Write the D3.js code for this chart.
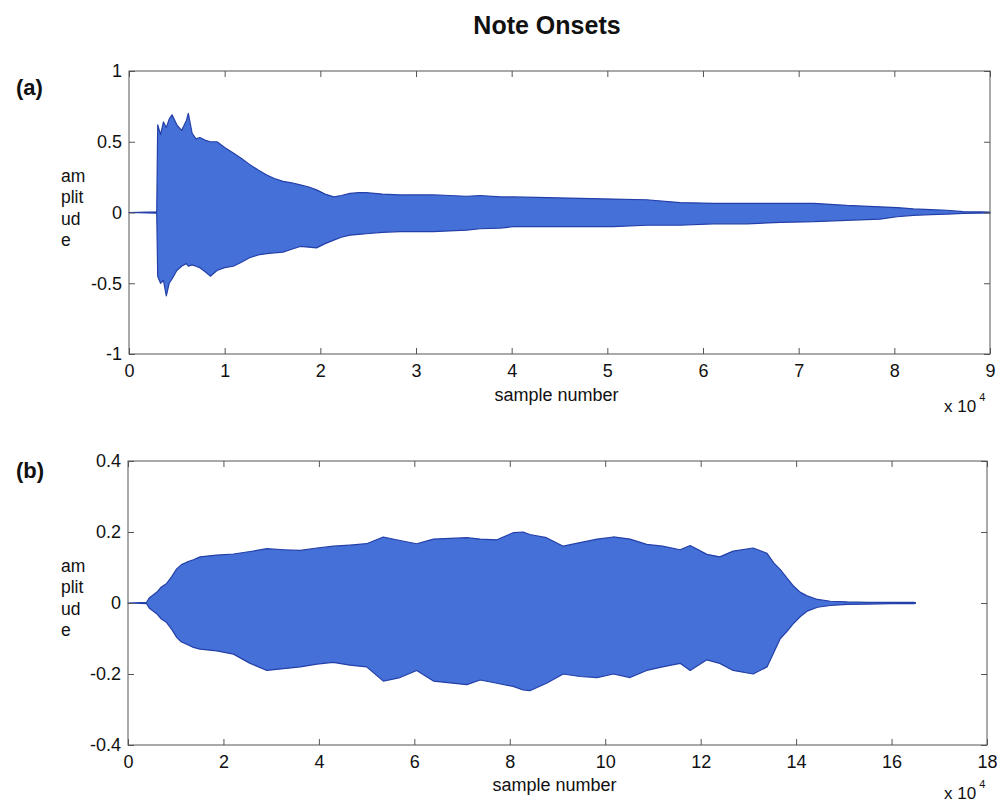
<!DOCTYPE html>
<html>
<head>
<meta charset="utf-8">
<script src="https://cdn.jsdelivr.net/npm/d3@7"></script>
<style>
  html, body { margin: 0; padding: 0; background: #ffffff; }
  svg { display: block; font-family: "Liberation Sans", Arial, sans-serif; }
</style>
</head>
<body>
<svg id="chart" width="997" height="804"></svg>
<script>
// ---------- data (x in units of 10^4 samples) ----------
const aX = [0, 0.29, 0.30, 0.33, 0.36, 0.39, 0.42, 0.45, 0.50, 0.55, 0.60, 0.62, 0.66, 0.70, 0.74, 0.80, 0.85, 0.92, 1.0, 1.09, 1.18, 1.26, 1.35, 1.44, 1.52, 1.61, 1.70, 1.79, 1.88, 1.96, 2.05, 2.14, 2.22, 2.31, 2.40, 2.48, 2.65, 2.83, 3.0, 3.18, 3.35, 3.53, 3.67, 3.88, 4.02, 4.37, 4.72, 5.06, 5.41, 5.76, 6.11, 6.46, 6.81, 7.16, 7.5, 7.85, 8.03, 8.2, 8.38, 8.55, 8.72, 8.9, 9.0];
const aUpper = [0, 0.005, 0.62, 0.55, 0.64, 0.60, 0.66, 0.69, 0.62, 0.58, 0.65, 0.70, 0.56, 0.52, 0.53, 0.51, 0.50, 0.50, 0.46, 0.42, 0.38, 0.34, 0.30, 0.265, 0.24, 0.22, 0.21, 0.195, 0.18, 0.16, 0.13, 0.11, 0.12, 0.135, 0.14, 0.14, 0.13, 0.124, 0.125, 0.124, 0.12, 0.115, 0.12, 0.11, 0.11, 0.105, 0.10, 0.095, 0.09, 0.07, 0.065, 0.065, 0.065, 0.065, 0.05, 0.04, 0.035, 0.025, 0.02, 0.016, 0.006, 0.004, 0.003];
const aLower = [0, -0.005, -0.45, -0.50, -0.48, -0.59, -0.50, -0.47, -0.41, -0.38, -0.36, -0.38, -0.37, -0.38, -0.39, -0.42, -0.45, -0.41, -0.39, -0.38, -0.35, -0.32, -0.30, -0.29, -0.285, -0.28, -0.26, -0.24, -0.245, -0.25, -0.22, -0.195, -0.175, -0.16, -0.155, -0.15, -0.14, -0.135, -0.135, -0.135, -0.13, -0.125, -0.115, -0.11, -0.10, -0.10, -0.10, -0.10, -0.09, -0.09, -0.08, -0.08, -0.07, -0.065, -0.055, -0.047, -0.03, -0.02, -0.015, -0.012, -0.006, -0.004, -0.003];

const bX = [0, 0.39, 0.45, 0.6, 0.7, 0.81, 0.92, 1.02, 1.12, 1.23, 1.37, 1.51, 1.86, 2.21, 2.56, 2.91, 3.26, 3.61, 3.96, 4.3, 4.65, 5.0, 5.35, 5.7, 6.05, 6.4, 6.75, 7.1, 7.38, 7.73, 8.07, 8.28, 8.42, 8.77, 9.12, 9.47, 9.83, 10.17, 10.52, 10.87, 11.2, 11.57, 11.78, 12.13, 12.4, 12.68, 13.1, 13.39, 13.53, 13.67, 13.81, 13.95, 14.09, 14.23, 14.45, 14.72, 15.07, 15.5, 16.0, 16.46, 16.5];
const bUpper = [0, 0.002, 0.015, 0.03, 0.045, 0.055, 0.075, 0.096, 0.108, 0.115, 0.122, 0.13, 0.135, 0.138, 0.145, 0.153, 0.15, 0.148, 0.155, 0.16, 0.163, 0.167, 0.186, 0.176, 0.167, 0.18, 0.182, 0.184, 0.18, 0.178, 0.198, 0.2, 0.193, 0.184, 0.16, 0.17, 0.18, 0.186, 0.18, 0.165, 0.16, 0.15, 0.162, 0.137, 0.13, 0.146, 0.155, 0.14, 0.113, 0.094, 0.07, 0.047, 0.03, 0.02, 0.01, 0.005, 0.003, 0.002, 0.002, 0.002, 0.001];
const bLower = [0, -0.002, -0.015, -0.03, -0.045, -0.055, -0.075, -0.097, -0.11, -0.116, -0.125, -0.13, -0.135, -0.144, -0.17, -0.19, -0.185, -0.18, -0.172, -0.167, -0.175, -0.18, -0.22, -0.21, -0.19, -0.22, -0.225, -0.23, -0.217, -0.226, -0.235, -0.245, -0.247, -0.226, -0.2, -0.207, -0.21, -0.2, -0.21, -0.19, -0.18, -0.17, -0.19, -0.16, -0.17, -0.19, -0.2, -0.18, -0.14, -0.10, -0.08, -0.057, -0.038, -0.023, -0.012, -0.007, -0.004, -0.003, -0.002, -0.002, -0.001];

const aXTicks = [0, 1, 2, 3, 4, 5, 6, 7, 8, 9];
const aYTicks = [-1, -0.5, 0, 0.5, 1];
const bXTicks = [0, 2, 4, 6, 8, 10, 12, 14, 16, 18];
const bYTicks = [-0.4, -0.2, 0, 0.2, 0.4];

const title = "Note Onsets";
const panelLabels = ["(a)", "(b)"];
const yLabelLines = ["am", "plit", "ud", "e"];
const xLabel = "sample number";

// ---------- drawing ----------
const svg = d3.select("#chart");
const FILL = "#4470d8", EDGE = "#2440a8", AXIS = "#555", TXT = "#111";

svg.append("text").attr("x", 547).attr("y", 34).attr("text-anchor", "middle")
  .attr("font-size", 25).attr("font-weight", "bold").attr("fill", TXT).text(title);

const panels = [
  { X: aX, U: aUpper, L: aLower, xt: aXTicks, yt: aYTicks, xd: [0, 9], yd: [-1, 1],
    left: 129, right: 990, top: 71, bottom: 354, label: panelLabels[0], labelY: 95,
    yLabBase: 182, xLabBase: 401, expBase: 412 },
  { X: bX, U: bUpper, L: bLower, xt: bXTicks, yt: bYTicks, xd: [0, 18], yd: [-0.4, 0.4],
    left: 128, right: 987, top: 461, bottom: 745, label: panelLabels[1], labelY: 478,
    yLabBase: 572, xLabBase: 791, expBase: 799 }
];

panels.forEach(p => {
  const x = d3.scaleLinear().domain(p.xd).range([p.left, p.right]);
  const y = d3.scaleLinear().domain(p.yd).range([p.bottom, p.top]);
  const g = svg.append("g");
  const pts = p.X.map((v, i) => ({ x: v, u: p.U[i], l: p.L[i] }));

  // waveform envelope
  g.append("path").datum(pts)
    .attr("d", d3.area().x(d => x(d.x)).y0(d => y(d.l)).y1(d => y(d.u)))
    .attr("fill", FILL).attr("stroke", EDGE).attr("stroke-width", 1.2)
    .attr("stroke-linejoin", "round");

  // box
  g.append("rect").attr("x", p.left).attr("y", p.top)
    .attr("width", p.right - p.left).attr("height", p.bottom - p.top)
    .attr("fill", "none").attr("stroke", AXIS).attr("stroke-width", 1);

  // axes with inward ticks
  const fmt = d => String(d);
  g.append("g").attr("transform", `translate(0,${p.bottom})`)
    .call(d3.axisBottom(x).tickValues(p.xt).tickSize(-6).tickPadding(10).tickFormat(fmt));
  g.append("g").attr("transform", `translate(0,${p.top})`)
    .call(d3.axisTop(x).tickValues(p.xt).tickSize(-6).tickFormat(""));
  g.append("g").attr("transform", `translate(${p.left},0)`)
    .call(d3.axisLeft(y).tickValues(p.yt).tickSize(-6).tickPadding(7).tickFormat(fmt));
  g.append("g").attr("transform", `translate(${p.right},0)`)
    .call(d3.axisRight(y).tickValues(p.yt).tickSize(-6).tickFormat(""));
  g.selectAll(".domain").remove();
  g.selectAll(".tick line").attr("stroke", AXIS);
  g.selectAll(".tick text").attr("font-size", 18).attr("fill", TXT)
    .attr("font-family", "'Liberation Sans', Arial, sans-serif");

  // panel label
  svg.append("text").attr("x", 16).attr("y", p.labelY).attr("font-size", 22)
    .attr("font-weight", "bold").attr("fill", TXT).text(p.label);

  // y label (stacked lines)
  yLabelLines.forEach((t, i) => {
    svg.append("text").attr("x", 61).attr("y", p.yLabBase + i * 21.4)
      .attr("font-size", 17.5).attr("fill", TXT).text(t);
  });

  // x label
  svg.append("text").attr("x", (p.left + p.right) / 2 - 3).attr("y", p.xLabBase)
    .attr("text-anchor", "middle").attr("font-size", 18).attr("fill", TXT).text(xLabel);

  // exponent
  const e = svg.append("text").attr("x", 944).attr("y", p.expBase)
    .attr("font-size", 17).attr("fill", TXT);
  e.append("tspan").text("x 10");
  e.append("tspan").attr("dy", -11).attr("font-size", 11).attr("dx", 3).text("4");
});
</script>
</body>
</html>
